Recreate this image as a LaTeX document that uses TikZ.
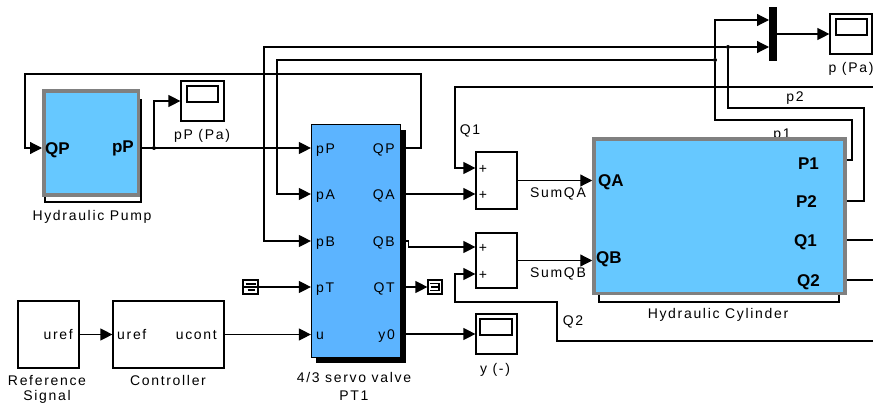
\documentclass[tikz,border=0pt]{standalone}
\usepackage{fontspec}
\setmainfont{Liberation Sans}
\newfontfamily\simfont[LetterSpace=12]{Liberation Sans}
\usetikzlibrary{arrows.meta, positioning}
\definecolor{cylblue}{HTML}{66C8FF}
\definecolor{valveblue}{HTML}{5CB4FF}
\definecolor{bordergray}{HTML}{808080}
\tikzstyle{block} = [rectangle, draw, line width=1.2pt, fill=white, inner sep=0pt]
\tikzstyle{subsys} = [rectangle, draw=bordergray, line width=3.5pt, fill=cylblue, inner sep=0pt]
\tikzstyle{screen} = [rectangle, draw, line width=1.2pt, inner sep=0pt]
\tikzstyle{lab} = [inner sep=0pt, text height=10pt, text depth=0pt, font=\simfont\fontsize{14}{16}\selectfont]
\tikzstyle{boldlab} = [inner sep=0pt, text height=12pt, text depth=0pt, font=\bfseries\fontsize{17}{19}\selectfont]
\tikzstyle{sig} = [-{Triangle[length=12pt,width=12pt]}, line width=1.2pt]
\tikzstyle{wire} = [line width=1.2pt]
\tikzstyle{dot} = [circle, fill, inner sep=0pt, minimum size=4pt]

\begin{document}
\begin{tikzpicture}[x=1pt, y=-1pt]
  \clip (0,0) rectangle (873,404);

  % labels that lie under the blocks
  \node[lab] (lp1) at (782,133) {p1};
  \node[lab] (lp2) at (795,97) {p2};

  % shadows
  \node[block, minimum width=96pt, minimum height=102pt] (pumpshadow) at (93,151) {};
  \node[block, minimum width=240pt, minimum height=102pt] (cylshadow) at (719,251) {};
  \node[rectangle, fill=black, inner sep=0pt, minimum width=90pt, minimum height=233pt] (valveshadow) at (361,246.5) {};

  % main blocks
  \node[subsys, minimum width=94.5pt, minimum height=104pt] (pump) at (91,143) {};
  \node[rectangle, draw, line width=1.2pt, fill=valveblue, inner sep=0pt, minimum width=89pt, minimum height=233pt] (valve) at (356,241) {};
  \node[subsys, minimum width=251pt, minimum height=154.5pt] (cylinder) at (719.5,216) {};
  \node[block, minimum width=61pt, minimum height=67pt] (ref) at (48.5,334.5) {};
  \node[block, minimum width=111pt, minimum height=67pt] (ctrl) at (168.5,334.5) {};
  \node[block, minimum width=41pt, minimum height=57pt] (sum1) at (496.5,180.5) {};
  \node[block, minimum width=41pt, minimum height=55pt] (sum2) at (496.5,260.5) {};
  \node[rectangle, fill=black, inner sep=0pt, minimum width=8pt, minimum height=54pt] (mux) at (773,34) {};

  % scopes
  \node[block, minimum width=43pt, minimum height=40pt] (scopepP) at (202.5,101) {};
  \node[screen, minimum width=31pt, minimum height=16pt] (screenpP) at (202.5,94) {};
  \node[block, minimum width=41pt, minimum height=40pt] (scopey) at (496.5,334) {};
  \node[screen, minimum width=32pt, minimum height=16pt] (screeny) at (496,327) {};
  \node[block, minimum width=42pt, minimum height=40pt] (scopep) at (851,34) {};
  \node[screen, minimum width=31pt, minimum height=16pt] (screenp) at (851.5,27) {};

  % from and goto
  \node[block, minimum width=15pt, minimum height=14pt] (pTsrc) at (250.5,287) {};
  \node[block, minimum width=14pt, minimum height=14pt] (QTsink) at (435,287) {};
  \draw[wire] (pTsrc.center) ++(-5,-3) -- ++(10,0) (pTsrc.center) ++(-7,0) -- ++(14,0) (pTsrc.center) ++(-3,3) -- ++(7,0);
  \draw[wire] (QTsink.center) ++(-5,-3.5) -- ++(9,0) -- ++(0,7) -- ++(-9,0) (QTsink.center) ++(-4,0) -- ++(8,0);

  % pump text
  \node[boldlab, anchor=west] (pQP) at (45,148) {QP};
  \node[boldlab, anchor=east] (ppP) at (134,146) {pP};
  \node[lab] (lpump) at (92,215) {Hydraulic Pump};
  \node[lab] (lscopepP) at (202,134) {pP (Pa)};

  % valve text
  \node[lab, anchor=west] (vpP) at (316,148) {pP};
  \node[lab, anchor=west] (vpA) at (316,194) {pA};
  \node[lab, anchor=west] (vpB) at (316,241) {pB};
  \node[lab, anchor=west] (vpT) at (316,287) {pT};
  \node[lab, anchor=west] (vu) at (316,334) {u};
  \node[lab, anchor=east] (vQP) at (395,148) {QP};
  \node[lab, anchor=east] (vQA) at (395,194) {QA};
  \node[lab, anchor=east] (vQB) at (395,241) {QB};
  \node[lab, anchor=east] (vQT) at (395,287) {QT};
  \node[lab, anchor=east] (vy0) at (395,334) {y0};
  \node[lab] (lvalve) at (354,377) {4/3 servo valve};
  \node[lab] (lPT1) at (354,395) {PT1};

  % cylinder text
  \node[boldlab, anchor=west] (cQA) at (598,180) {QA};
  \node[boldlab, anchor=west] (cQB) at (596,257) {QB};
  \node[boldlab, anchor=east] (cP1) at (819,163) {P1};
  \node[boldlab, anchor=east] (cP2) at (817,201) {P2};
  \node[boldlab, anchor=east] (cQ1) at (817,240) {Q1};
  \node[boldlab, anchor=east] (cQ2) at (820,280) {Q2};
  \node[lab] (lcyl) at (718,313) {Hydraulic Cylinder};

  % reference and controller text
  \node[lab, anchor=east] (ruref) at (73,334) {uref};
  \node[lab, anchor=west] (curef) at (117,334) {uref};
  \node[lab, anchor=east] (cucont) at (217,334) {ucont};
  \node[lab] (lref) at (47,380) {Reference};
  \node[lab] (lsignal) at (47,395.5) {Signal};
  \node[lab] (lctrl) at (168,380) {Controller};

  % sums
  \node[lab] (s1a) at (483,168) {+};
  \node[lab] (s1b) at (483,194) {+};
  \node[lab] (s2a) at (483,247) {+};
  \node[lab] (s2b) at (483,274) {+};

  % other labels
  \node[lab] (lQ1) at (470,129) {Q1};
  \node[lab] (lQ2) at (573,320) {Q2};
  \node[lab] (lSumQA) at (558,192) {SumQA};
  \node[lab] (lSumQB) at (558,272) {SumQB};
  \node[lab] (lscopey) at (495,368) {y (-)};
  \node[lab] (lscopep) at (851,68) {p (Pa)};

  % junctions and free ends
  \node[dot] (jpP) at (154,148) {};
  \node[dot] (jp1) at (715,60) {};
  \node[dot] (jp2) at (728,47) {};
  \coordinate (muxa) at (769,20);
  \coordinate (muxb) at (769,47);
  \coordinate (p1port) at (852,160);
  \coordinate (p1turn) at (852,120);
  \coordinate (p2turn) at (864,108);
  \coordinate (Q1out) at (873,240);
  \coordinate (Q1back) at (873,87);
  \coordinate (Q2out) at (873,280);
  \coordinate (Q2back) at (873,341);

  % pump and valve pressure
  \draw[sig] (pump.east |- jpP) -- (valve.west |- vpP);
  \draw[sig] (jpP) |- (scopepP);
  \draw[sig] (valveshadow.east |- vQP) -- (421,148) -- (421,74) -- (25,74) -- (25,148) -- (pump.west |- pQP);

  % valve inputs
  \draw[sig] (jp1) -- (277,60) |- (valve.west |- vpA);
  \draw[sig] (jp2) -- (264,47) |- (valve.west |- vpB);
  \draw[sig] (pTsrc) -- (valve.west |- pTsrc);
  \draw[sig] (ref) -- (ctrl);
  \draw[sig] (ctrl) -- (valve.west |- ctrl);

  % valve outputs
  \draw[sig] (valveshadow.east |- vQA) -- (sum1.west |- s1b);
  \draw[sig] (valveshadow.east |- vQB) -- ++(2,0) -- ++(0,6) -- (sum2.west |- s2a);
  \draw[sig] (valveshadow.east |- QTsink) -- (QTsink);
  \draw[sig] (valveshadow.east |- scopey) -- (scopey);

  % sums to cylinder
  \draw[sig] (sum1) -- (sum1 -| cylinder.west);
  \draw[sig] (sum2) -- (sum2 -| cylinder.west);

  % cylinder outputs
  \draw[wire] (cylinder.east |- p1port) -- (p1port) -- (p1turn) -| (jp1);
  \draw[sig] (jp1) |- (muxa);
  \draw[wire] (cylinder.east |- cP2) -| (p2turn) -| (jp2);
  \draw[sig] (jp2) -- (muxb);
  \draw[sig] (mux) -- (scopep);
  \draw[wire] (cylinder.east |- cQ1) -- (Q1out);
  \draw[wire] (cylinder.east |- cQ2) -- (Q2out);
  \draw[sig] (Q1back) -| (455,168) -- (sum1.west |- s1a);
  \draw[sig] (Q2back) -| (557,302) -| (455,274) -- (sum2.west |- s2b);
\end{tikzpicture}
\end{document}
